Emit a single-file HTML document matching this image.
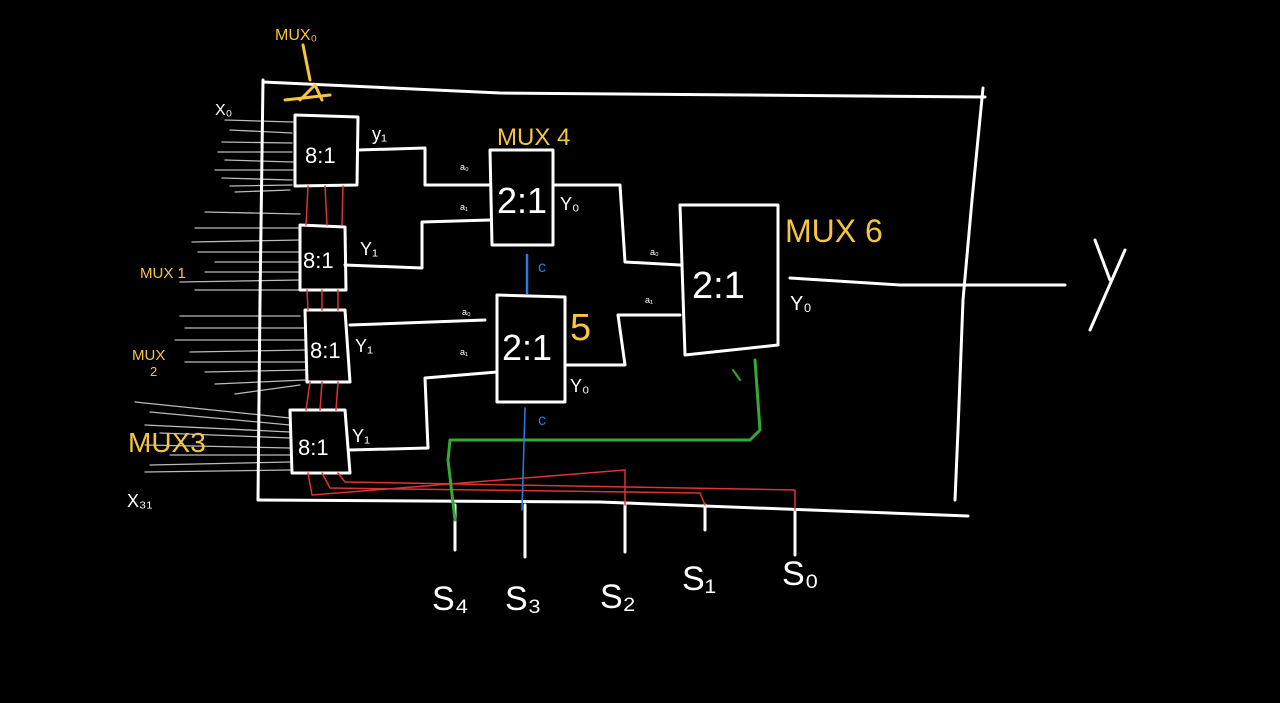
<!DOCTYPE html>
<html><head><meta charset="utf-8"><style>
html,body{margin:0;padding:0;background:#000;width:1280px;height:703px;overflow:hidden}
svg{display:block}
text{font-family:"Liberation Sans",sans-serif}
</style></head><body>
<svg width="1280" height="703" viewBox="0 0 1280 703" xmlns="http://www.w3.org/2000/svg">
<g fill="none" stroke-linecap="round" stroke-linejoin="round">
<g stroke="#bbb" stroke-width="1.3">
<path d="M225 120 L293 122 M230 130 L292 133 M222 142 L292 143 M218 152 L292 152 M225 160 L293 162 M215 170 L293 170 M222 178 L292 180 M230 186 L292 185 M235 192 L290 190"/>
<path d="M205 212 L300 214 M195 228 L298 228 M192 242 L300 240 M198 252 L300 252 M215 262 L300 262 M205 272 L300 272 M180 282 L300 280 M195 290 L300 290"/>
<path d="M180 316 L300 316 M185 328 L305 328 M175 340 L305 340 M190 352 L305 350 M185 362 L305 362 M205 372 L305 370 M215 384 L305 380 M235 394 L300 385"/>
<path d="M135 402 L290 418 M150 412 L290 425 M145 425 L290 432 M160 433 L290 438 M145 445 L290 448 M170 455 L290 455 M150 465 L290 462 M145 472 L290 470"/>
</g>
<g stroke="#fff" stroke-width="3">
<path d="M263 82 L500 93 L985 97"/>
<path d="M983 88 L972 200 L963 300 L958 430 L955 500"/>
<path d="M263 80 L260 300 L258 500"/>
<path d="M258 500 L600 502 L968 516"/>
<path d="M295 115 L358 117 L357 185 L295 186 Z"/>
<path d="M300 225 L345 227 L346 290 L300 290 Z"/>
<path d="M305 310 L345 310 L350 382 L307 382 Z"/>
<path d="M290 410 L345 410 L350 473 L292 473 Z"/>
<path d="M490 150 L553 150 L553 245 L492 245 Z"/>
<path d="M497 295 L565 297 L565 402 L497 402 Z"/>
<path d="M680 205 L778 205 L778 345 L685 355 Z"/>
<path d="M358 150 L425 148 L425 185 L490 185"/>
<path d="M345 265 L422 268 L422 222 L490 220"/>
<path d="M350 325 L485 320"/>
<path d="M350 450 L428 448 L425 378 L497 372"/>
<path d="M553 185 L620 185 L625 262 L680 265"/>
<path d="M565 365 L625 365 L618 315 L680 315"/>
<path d="M790 278 L900 285 L1065 285"/>
<path d="M1095 240 L1110 280 M1125 250 L1090 330"/>
<path d="M455 505 L455 550 M525 505 L525 557 M625 505 L625 552 M705 505 L705 530 M795 510 L795 555"/>
</g>
<g stroke="#d33" stroke-width="1.5">
<path d="M308 186 L306 225 M325 186 L327 225 M343 186 L342 225"/>
<path d="M307 290 L308 310 M322 290 L322 310 M338 290 L338 310"/>
<path d="M310 382 L306 410 M322 382 L320 410 M338 382 L336 410"/>
<path d="M308 473 L312 495 L625 470 L625 505"/>
<path d="M322 473 L330 488 L700 493 L705 505"/>
<path d="M338 473 L345 482 L795 490 L795 510"/>
</g>
<path d="M755 360 L760 430 L750 440 L450 440 L448 460 L455 520" stroke="#3a3" stroke-width="3"/>
<path d="M733 370 L740 380" stroke="#3a3" stroke-width="2"/>
<g stroke="#2a7be0" stroke-width="2.5">
<path d="M527 255 L527 293"/>
<path d="M525 408 L522 510" stroke-width="1.5"/>
</g>
<path d="M303 45 L310 80 M285 100 L330 95 M300 100 L315 85 L322 100" stroke="#f5c542" stroke-width="3"/>
</g>
<g fill="#fff" font-size="22">
<text x="305" y="163">8:1</text><text x="303" y="268">8:1</text><text x="310" y="358">8:1</text><text x="298" y="455">8:1</text>
<text x="497" y="213" font-size="36">2:1</text><text x="502" y="360" font-size="36">2:1</text><text x="692" y="298" font-size="38">2:1</text>
<text x="372" y="140" font-size="18">y₁</text><text x="360" y="255" font-size="18">Y₁</text><text x="355" y="352" font-size="18">Y₁</text><text x="352" y="442" font-size="18">Y₁</text>
<text x="560" y="210" font-size="18">Y₀</text><text x="570" y="392" font-size="18">Y₀</text><text x="790" y="310" font-size="20">Y₀</text>
<text x="215" y="115" font-size="16">X₀</text><text x="127" y="507" font-size="18">X₃₁</text>
<text x="432" y="610" font-size="34">S₄</text><text x="505" y="610" font-size="34">S₃</text><text x="600" y="608" font-size="34">S₂</text><text x="682" y="590" font-size="34">S₁</text><text x="782" y="585" font-size="34">S₀</text>
<text x="460" y="170" font-size="9">a₀</text><text x="460" y="210" font-size="9">a₁</text><text x="462" y="315" font-size="9">a₀</text><text x="460" y="355" font-size="9">a₁</text>
<text x="650" y="255" font-size="9">a₀</text><text x="645" y="303" font-size="9">a₁</text>
</g>
<g fill="#2a7be0" font-size="16"><text x="538" y="272">c</text><text x="538" y="425">c</text></g>
<g fill="#f5c542">
<text x="275" y="40" font-size="16">MUX₀</text>
<text x="497" y="145" font-size="24">MUX 4</text>
<text x="785" y="242" font-size="32">MUX 6</text>
<text x="570" y="340" font-size="38">5</text>
<text x="140" y="278" font-size="15">MUX 1</text>
<text x="132" y="360" font-size="15">MUX</text><text x="150" y="376" font-size="13">2</text>
<text x="128" y="452" font-size="28">MUX3</text>
</g>
</svg>
</body></html>
